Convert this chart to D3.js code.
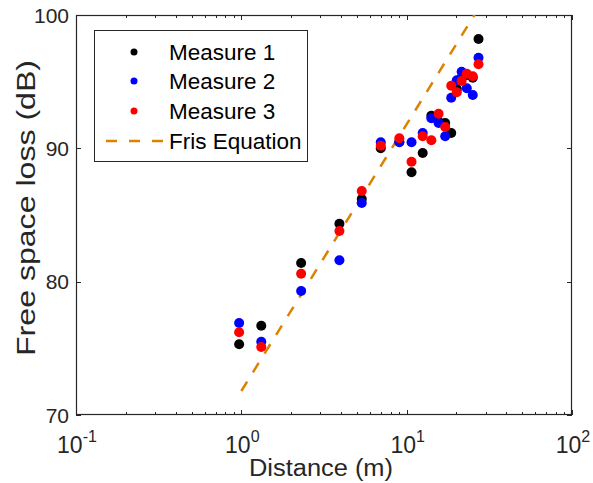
<!DOCTYPE html>
<html>
<head>
<meta charset="utf-8">
<script src="https://cdn.jsdelivr.net/npm/d3@7"></script>
<style>
  body { margin: 0; background: #fff; }
  text { font-family: "Liberation Sans", Arial, sans-serif; fill: #262626; }
</style>
</head>
<body>
<div id="chart"></div>
<script>
// distances (m), une par point de mesure
const distances = [0.97, 1.32, 2.3, 3.92, 5.35, 6.97, 9.03, 10.7, 12.5, 14.1, 15.6, 17.1, 18.6, 20.1, 21.5, 23.1, 25.1, 27.2];

// pertes mesurées (dB)
const measure1 = [75.3, 76.7, 81.4, 84.35, 86.2, 90.0, 90.5, 88.2, 89.65, 92.45, 92.0, 91.9, 91.15, 94.45, 95.3, 95.5, 95.3, 98.2];
const measure2 = [76.9, 75.5, 79.3, 81.6, 85.9, 90.45, 90.45, 90.45, 91.15, 92.25, 91.9, 90.9, 93.8, 95.1, 95.75, 94.5, 94.0, 96.8];
const measure3 = [76.2, 75.1, 80.6, 83.8, 86.8, 90.2, 90.75, 89.0, 90.9, 90.6, 92.6, 91.6, 94.7, 94.2, 95.05, 95.6, 95.4, 96.3];

// courbe de Friis (extrémités)
const frisDistances = [1, 27.2];
const frisLoss = [71.8, 100.5];

const seriesNames = ["Measure 1", "Measure 2", "Measure 3"];
const seriesColors = ["#000000", "#0000ff", "#ff0000"];
const frisName = "Fris Equation";
const frisColor = "#dc8200";

const xTicks = [0.1, 1, 10, 100];
const xExponents = ["-1", "0", "1", "2"];
const yTicks = [70, 80, 90, 100];

// dimensions
var width = 593;
var height = 483;
var margin = { top: 15, right: 21, bottom: 68, left: 76 };

var svg = d3
  .select("#chart")
  .append("svg")
  .attr("width", width)
  .attr("height", height);

var x = d3.scaleLog().domain([0.1, 100]).range([margin.left, width - margin.right]);
var y = d3.scaleLinear().domain([70, 100]).range([height - margin.bottom, margin.top]);

var axisColor = "#262626";

svg
  .append("clipPath")
  .attr("id", "clip")
  .append("rect")
  .attr("x", margin.left)
  .attr("y", margin.top)
  .attr("width", width - margin.left - margin.right)
  .attr("height", height - margin.top - margin.bottom);

// ticks mineurs en x (2..9 par décade)
var minorX = [];
xTicks.slice(0, -1).forEach(function (t) {
  for (var k = 2; k < 10; k++) minorX.push(t * k);
});

var ticks = svg.append("g").attr("stroke", axisColor).attr("stroke-width", 1);
var y0 = y(70), y1 = y(100), x0 = x(0.1), x1 = x(100);

minorX.forEach(function (v) {
  var px = Math.round(x(v)) + 0.5;
  ticks.append("line").attr("x1", px).attr("x2", px).attr("y1", y0).attr("y2", y0 - 3);
  ticks.append("line").attr("x1", px).attr("x2", px).attr("y1", y1).attr("y2", y1 + 3);
});
xTicks.forEach(function (v) {
  var px = Math.round(x(v)) + 0.5;
  ticks.append("line").attr("x1", px).attr("x2", px).attr("y1", y0).attr("y2", y0 - 5);
  ticks.append("line").attr("x1", px).attr("x2", px).attr("y1", y1).attr("y2", y1 + 5);
});
yTicks.forEach(function (v) {
  var py = Math.round(y(v)) + 0.5;
  ticks.append("line").attr("x1", x0).attr("x2", x0 + 5).attr("y1", py).attr("y2", py);
  ticks.append("line").attr("x1", x1).attr("x2", x1 - 5).attr("y1", py).attr("y2", py);
});

// cadre
svg
  .append("rect")
  .attr("x", x0 + 0.5)
  .attr("y", y1 + 0.5)
  .attr("width", x1 - x0 - 1)
  .attr("height", y0 - y1 - 1)
  .attr("fill", "none")
  .attr("stroke", axisColor)
  .attr("stroke-width", 1.2);

// labels des ticks
svg
  .selectAll(".ylab")
  .data(yTicks)
  .enter()
  .append("text")
  .attr("class", "ylab")
  .attr("x", x0 - 7)
  .attr("y", function (d) { return y(d); })
  .attr("dy", "0.36em")
  .attr("text-anchor", "end")
  .style("font-size", "21px")
  .text(function (d) { return d; });

var xl = svg
  .selectAll(".xlab")
  .data(xTicks)
  .enter()
  .append("text")
  .attr("class", "xlab")
  .attr("x", function (d) { return x(d) + 1; })
  .attr("y", 453)
  .attr("text-anchor", "middle")
  .style("font-size", "23px");
xl.append("tspan").text("10");
xl.append("tspan")
  .attr("dy", -11)
  .style("font-size", "16px")
  .text(function (d, i) { return xExponents[i]; });

// titres des axes
svg
  .append("text")
  .attr("x", (x0 + x1) / 2 - 3)
  .attr("y", 476)
  .attr("text-anchor", "middle")
  .attr("textLength", 144)
  .attr("lengthAdjust", "spacingAndGlyphs")
  .style("font-size", "23px")
  .text("Distance (m)");

svg
  .append("text")
  .attr("transform", "translate(35,208) rotate(-90)")
  .attr("text-anchor", "middle")
  .attr("textLength", 296)
  .attr("lengthAdjust", "spacingAndGlyphs")
  .style("font-size", "26px")
  .text("Free space loss (dB)");

// courbe de Friis
var line = d3.line()
  .x(function (d, i) { return x(frisDistances[i]); })
  .y(function (d) { return y(d); });

svg
  .append("path")
  .datum(frisLoss)
  .attr("clip-path", "url(#clip)")
  .attr("d", line)
  .attr("fill", "none")
  .attr("stroke", frisColor)
  .attr("stroke-width", 2.5)
  .attr("stroke-dasharray", "11,11");

// points de mesure
[measure1, measure2, measure3].forEach(function (values, s) {
  svg
    .append("g")
    .selectAll("circle")
    .data(values)
    .enter()
    .append("circle")
    .attr("cx", function (d, i) { return x(distances[i]); })
    .attr("cy", function (d) { return y(d); })
    .attr("r", 5)
    .attr("fill", seriesColors[s]);
});

// légende
var legend = svg.append("g");
legend
  .append("rect")
  .attr("x", 94.5)
  .attr("y", 30.5)
  .attr("width", 213)
  .attr("height", 131)
  .attr("fill", "#fff")
  .attr("stroke", axisColor)
  .attr("stroke-width", 1);

var rowY = [52, 81, 111, 141];
seriesNames.forEach(function (name, i) {
  legend.append("circle").attr("cx", 134).attr("cy", rowY[i]).attr("r", 3.5).attr("fill", seriesColors[i]);
  legend.append("text")
    .attr("x", 169)
    .attr("y", rowY[i])
    .attr("dy", "0.36em")
    .style("font-size", "22.5px")
    .style("fill", "#000")
    .text(name);
});
legend.append("line")
  .attr("x1", 106).attr("x2", 163)
  .attr("y1", rowY[3]).attr("y2", rowY[3])
  .attr("stroke", frisColor)
  .attr("stroke-width", 2.5)
  .attr("stroke-dasharray", "11,12");
legend.append("text")
  .attr("x", 169)
  .attr("y", rowY[3])
  .attr("dy", "0.36em")
  .style("font-size", "22.5px")
  .style("fill", "#000")
  .text(frisName);
</script>
</body>
</html>
